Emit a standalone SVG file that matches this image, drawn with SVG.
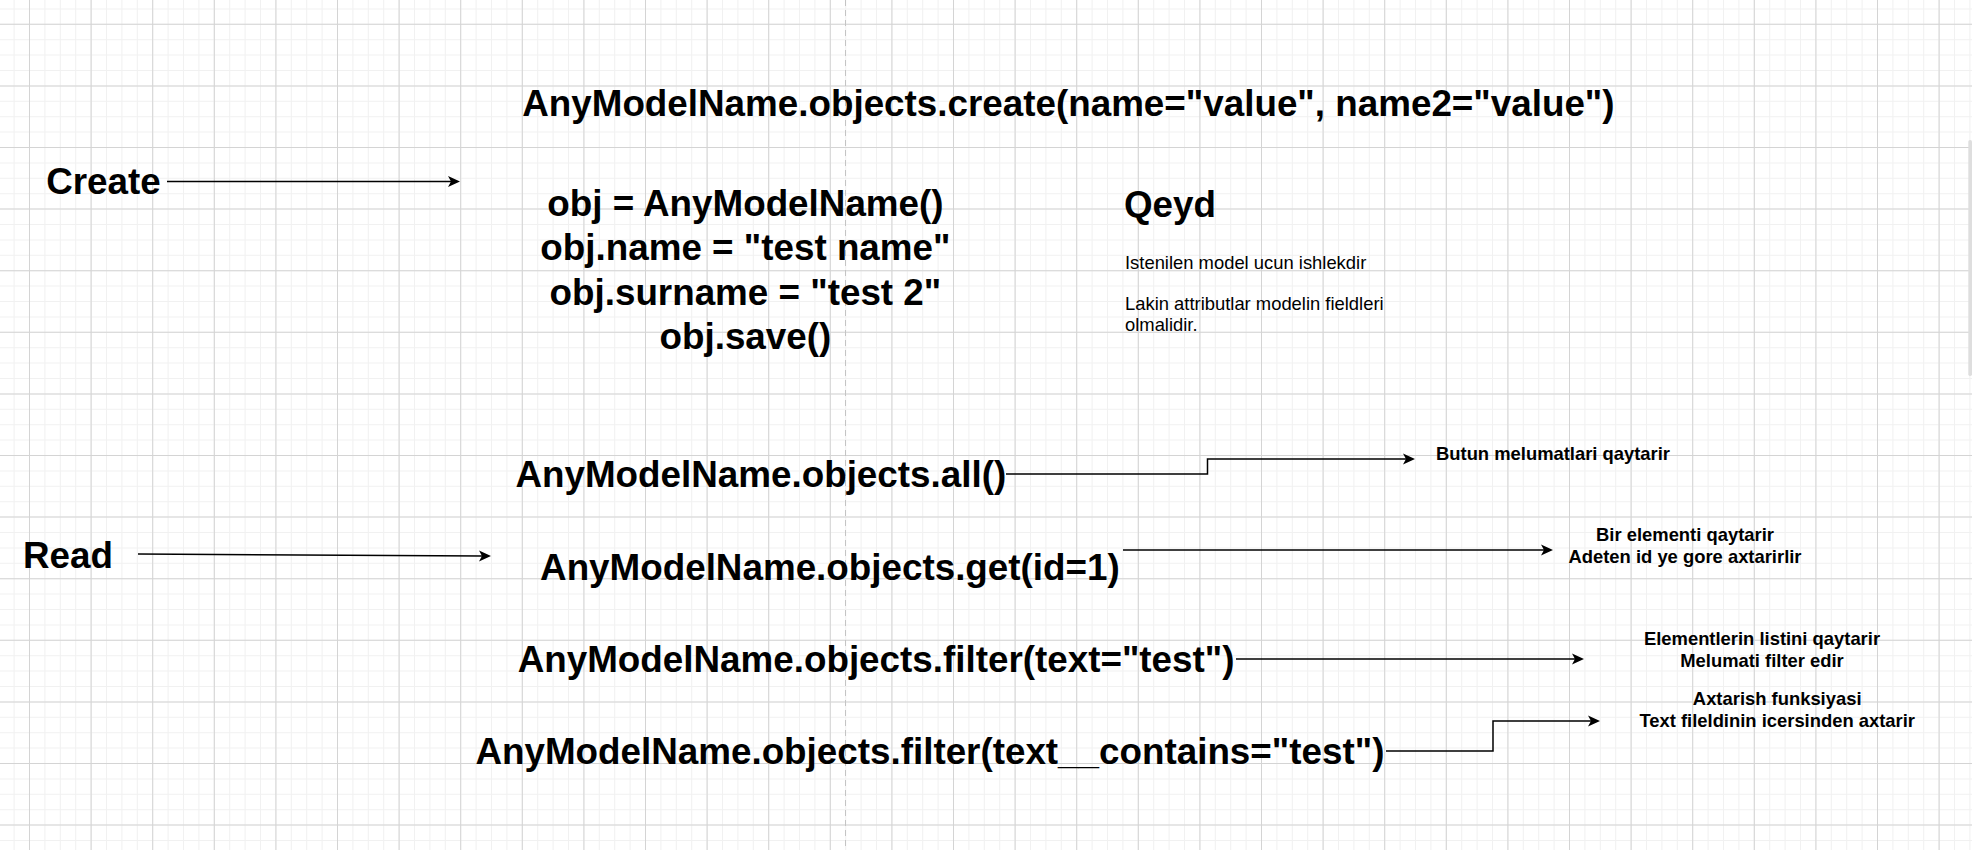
<svg xmlns="http://www.w3.org/2000/svg" width="1972" height="850" viewBox="0 0 1972 850">
<style>
.big{font-family:"Liberation Sans",Arial,Helvetica,sans-serif;font-weight:bold;font-size:36.8px;fill:#000}
.sm{font-family:"Liberation Sans",Arial,Helvetica,sans-serif;font-size:18.4px;fill:#000}
.smb{font-family:"Liberation Sans",Arial,Helvetica,sans-serif;font-size:18.4px;font-weight:bold;fill:#000}
.mid{text-anchor:middle}
.conn{fill:none;stroke:#000;stroke-width:1.5}
</style>
<defs>
<marker id="arr" markerUnits="userSpaceOnUse" markerWidth="14" markerHeight="14" viewBox="-4 -7 14 14" refX="0" refY="0" orient="auto" overflow="visible">
<path d="M9,0 L-3,-5.5 L0,0 L-3,5.5 Z" fill="#000"/>
</marker>
</defs>
<g id="background">
<rect x="0" y="0" width="1972" height="850" fill="#fff"/>
<line x1="-1.8" y1="425" x2="1972" y2="425" stroke="#f1f1f1" stroke-width="850" stroke-dasharray="1 14.4"/>
<line x1="986" y1="-7" x2="986" y2="850" stroke="#f1f1f1" stroke-width="1972" stroke-dasharray="1 14.4"/>
<line x1="-32.6" y1="425" x2="1972" y2="425" stroke="#d4d4d4" stroke-width="850" stroke-dasharray="1 60.6"/>
<line x1="986" y1="-37.8" x2="986" y2="850" stroke="#d4d4d4" stroke-width="1972" stroke-dasharray="1 60.6"/>
<line x1="845.5" y1="0" x2="845.5" y2="850" stroke="#c4c4c4" stroke-width="1" stroke-dasharray="6 4"/>
<rect x="1968.3" y="140" width="3.7" height="236" rx="1.8" fill="#dedede"/>
</g>
<g id="connectors">
<path class="conn" d="M167,181.5 H451" marker-end="url(#arr)"/>
<path class="conn" d="M138,554 L482,555.9" marker-end="url(#arr)"/>
<path class="conn" d="M1006,474 H1207.5 V459 H1406" marker-end="url(#arr)"/>
<path class="conn" d="M1123,550 H1544" marker-end="url(#arr)"/>
<path class="conn" d="M1236,659 H1575" marker-end="url(#arr)"/>
<path class="conn" d="M1386,751 H1493 V721 H1591" marker-end="url(#arr)"/>
</g>
<g id="create-label"><text class="big mid" x="103.4" y="193.5">Create</text></g>
<g id="read-label"><text class="big mid" x="68" y="567.5">Read</text></g>
<g id="create-method"><text class="big mid" x="1068.4" y="116">AnyModelName.objects.create(name="value", name2="value")</text></g>
<g id="create-obj">
<text class="big mid" x="745.4" y="216">obj = AnyModelName()</text>
<text class="big mid" x="745.4" y="260.4">obj.name = "test name"</text>
<text class="big mid" x="745.4" y="304.8">obj.surname = "test 2"</text>
<text class="big mid" x="745.4" y="349.2">obj.save()</text>
</g>
<g id="note">
<text class="big" x="1124" y="217">Qeyd</text>
<text class="sm" x="1125" y="269.4">Istenilen model ucun ishlekdir</text>
<text class="sm" x="1125" y="310">Lakin attributlar modelin fieldleri</text>
<text class="sm" x="1125" y="330.8">olmalidir.</text>
</g>
<g id="read-all"><text class="big mid" x="760.8" y="486.5">AnyModelName.objects.all()</text></g>
<g id="read-get"><text class="big mid" x="829.9" y="579.5">AnyModelName.objects.get(id=1)</text></g>
<g id="read-filter"><text class="big mid" x="876.1" y="671.5">AnyModelName.objects.filter(text="test")</text></g>
<g id="read-contains"><text class="big mid" x="929.9" y="763.5">AnyModelName.objects.filter(text__contains="test")</text></g>
<g id="desc-all"><text class="smb" x="1436" y="459.5">Butun melumatlari qaytarir</text></g>
<g id="desc-get">
<text class="smb mid" x="1685" y="541">Bir elementi qaytarir</text>
<text class="smb mid" x="1685" y="563">Adeten id ye gore axtarirlir</text>
</g>
<g id="desc-filter">
<text class="smb mid" x="1762" y="644.5">Elementlerin listini qaytarir</text>
<text class="smb mid" x="1762" y="666.5">Melumati filter edir</text>
</g>
<g id="desc-contains">
<text class="smb mid" x="1777.2" y="705">Axtarish funksiyasi</text>
<text class="smb mid" x="1777.2" y="727">Text fileldinin icersinden axtarir</text>
</g>
</svg>
